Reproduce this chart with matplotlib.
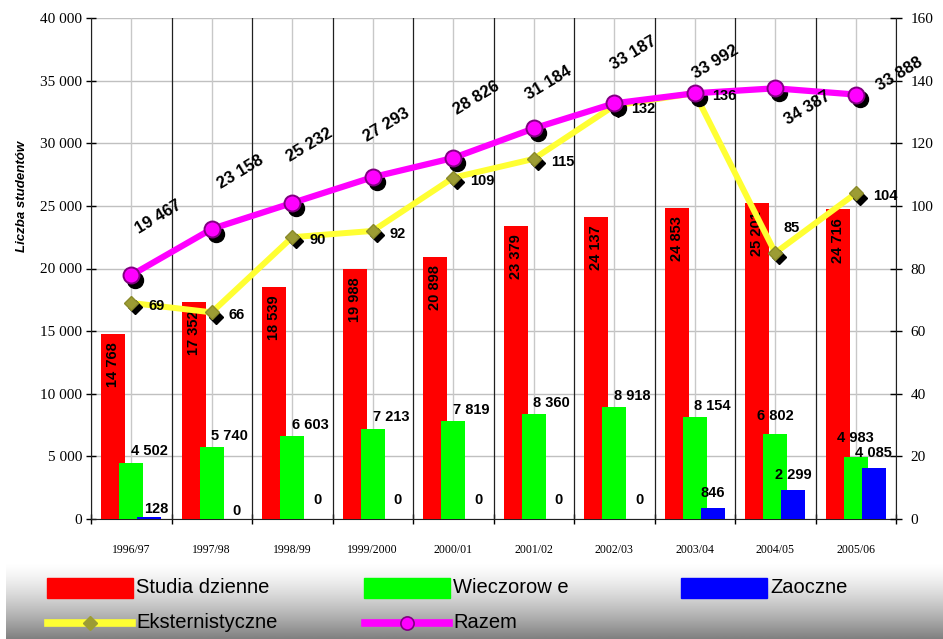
"""
Liczba studentów 1996/97 - 2005/06: słupki wg trybu studiów + linie (eksternistyczne, razem).
"""

import matplotlib
matplotlib.use('Agg')
import matplotlib.pyplot as plt
import matplotlib.transforms as mtransforms
from matplotlib.patches import Rectangle
from matplotlib.lines import Line2D
from matplotlib.ticker import FuncFormatter
import numpy as np

# --- data ---
years = ['1996/97', '1997/98', '1998/99', '1999/2000', '2000/01',
         '2001/02', '2002/03', '2003/04', '2004/05', '2005/06']
dzienne = [14768, 17352, 18539, 19988, 20898, 23379, 24137, 24853, 25201, 24716]
wieczorowe = [4502, 5740, 6603, 7213, 7819, 8360, 8918, 8154, 6802, 4983]
zaoczne = [128, 0, 0, 0, 0, 0, 0, 846, 2299, 4085]
eksternistyczne = [69, 66, 90, 92, 109, 115, 132, 136, 85, 104]
razem = [19467, 23158, 25232, 27293, 28826, 31184, 33187, 33992, 34387, 33888]

# label placement for the "Razem" values (pixels right / up from the point)
razem_lbl_dx = [27, 29, 17, 14, 23, 15, 19, 21, 32, 44]
razem_lbl_dy = [58, 57, 58, 52, 60, 45, 50, 31, -20, 21]

W, H = 943, 639
PX = 72.0 / 100  # pixels -> points

def fmt(v):
    return f"{int(v):,}".replace(',', ' ')

LBL = dict(family=['Liberation Sans', 'DejaVu Sans'], fontweight='bold',
           fontsize=10.5, color='black')

fig = plt.figure(figsize=(W / 100, H / 100), dpi=100)
ax = fig.add_axes([91 / W, 1 - 519 / H, (896 - 91) / W, (519 - 18) / H])

x = np.arange(len(years))
bw, off = 0.30, 0.224

# grid: light at category centres, dark at category borders
ax.set_xlim(-0.5, len(years) - 0.5)
ax.set_ylim(0, 40000)
for xc in x:
    ax.axvline(xc, color='#C8C8C8', lw=1, zorder=1)
for xb in np.arange(-0.5, len(years), 1.0):
    ax.axvline(xb, color='#202020', lw=0.9, zorder=1)
ax.set_yticks(range(0, 40001, 5000))
ax.yaxis.grid(True, color='#C0C0C0', lw=1, zorder=0)
ax.set_axisbelow(True)

ax.bar(x - off, dzienne, bw, color='#FF0000', zorder=3)
ax.bar(x, wieczorowe, bw, color='#00FF00', zorder=4)
ax.bar(x + off, zaoczne, bw, color='#0000FF', zorder=5)

# bar labels
for i in range(len(years)):
    ax.annotate(fmt(dzienne[i]), (x[i] - off, dzienne[i]), xytext=(0, -6),
                textcoords='offset points', rotation=90, ha='center', va='top',
                zorder=6, **LBL)
    gdx, gdy = (0.224, 3) if i < 8 else (0.0, 8)
    ax.annotate(fmt(wieczorowe[i]), (x[i] + gdx, wieczorowe[i]), xytext=(0, gdy),
                textcoords='offset points', ha='center', va='bottom', zorder=6, **LBL)
    if i < 2:
        bdx, bdy = 5, 1
    elif i < 7:
        bdx, bdy = 5, 9
    else:
        bdx, bdy = 0, 6
    ax.annotate(fmt(zaoczne[i]), (x[i] + off, zaoczne[i]), xytext=(bdx, bdy),
                textcoords='offset points', ha='center', va='bottom', zorder=6, **LBL)

# axes styling
ax.yaxis.set_major_formatter(FuncFormatter(lambda v, p: fmt(v)))
ax.tick_params(axis='y', direction='inout', length=7, width=1, pad=3,
               labelsize=11, labelfontfamily='Liberation Serif')
ax.set_xticks(x)
ax.set_xticklabels(years, fontsize=8.5, family='Liberation Serif')
ax.set_xticks(np.arange(-0.5, len(years), 1.0), minor=True)
ax.tick_params(axis='x', which='major', length=0, pad=18)
ax.tick_params(axis='x', which='minor', direction='inout', length=7, width=1)
for s in ['top', 'right']:
    ax.spines[s].set_visible(False)
ax.spines['left'].set_color('#202020')
ax.spines['bottom'].set_color('#202020')

# right axis: lines on top of the bars
ax2 = ax.twinx()
ax2.set_ylim(0, 160)
ax2.set_yticks(range(0, 161, 20))
ax2.tick_params(axis='y', direction='inout', length=9, width=1, pad=6,
                labelsize=11, labelfontfamily='Liberation Serif')
for s in ['top', 'left', 'bottom']:
    ax2.spines[s].set_visible(False)
ax2.spines['right'].set_color('#202020')

sh2 = mtransforms.offset_copy(ax2.transData, fig=fig, x=3, y=-3, units='points')
ax2.plot(x, eksternistyczne, color='#FFFF33', lw=4.3, zorder=2, solid_capstyle='butt')
ax2.plot(x, eksternistyczne, ls='none', marker='D', ms=7, color='black',
         transform=sh2, zorder=3)
ax2.plot(x, eksternistyczne, ls='none', marker='D', ms=7.5, color='#9C9C34',
         mec='#8A8A2A', zorder=4)
for i, v in enumerate(eksternistyczne):
    if i == 8:
        ax2.annotate(str(v), (x[i], v), xytext=(16 * PX, 25 * PX),
                     textcoords='offset points', ha='center', va='center', zorder=9, **LBL)
    else:
        ax2.annotate(str(v), (x[i], v), xytext=(17 * PX, -3 * PX),
                     textcoords='offset points', ha='left', va='center', zorder=9, **LBL)

sh1 = mtransforms.offset_copy(ax.transData, fig=fig, x=3, y=-3.5, units='points')
ax2.plot(x, razem, ls='none', marker='o', ms=11.5, color='black',
         transform=sh1, zorder=5)
ax2.plot(x, razem, color='#FF00FF', lw=4.5, marker='o', ms=11.5, mfc='#FF00FF',
         mec='#800080', mew=1.4, transform=ax.transData, zorder=6)
for i, v in enumerate(razem):
    ax2.annotate(fmt(v), (x[i], v), xycoords=ax.transData,
                 xytext=(razem_lbl_dx[i] * PX, razem_lbl_dy[i] * PX),
                 textcoords='offset points', ha='center', va='center',
                 rotation=31, zorder=9,
                 **{**LBL, 'fontsize': 12})

fig.text(22 / W, 1 - 196 / H, 'Liczba studentów', rotation=90, ha='center', va='center',
         fontsize=9.5, fontweight='bold', style='italic',
         family=['Liberation Sans', 'DejaVu Sans'])

# legend strip with grey gradient (pixel coordinates)
lax = fig.add_axes([6 / W, 0, 1 - 6 / W, (639 - 562) / H])
lax.set_xlim(6, 943)
lax.set_ylim(639, 562)
t = np.linspace(0, 1, 200)[:, None]
grad = 1 - 0.5 * t ** 1.4
lax.imshow(grad, cmap='gray', vmin=0, vmax=1, aspect='auto',
           extent=[6, 943, 639, 562], zorder=0)
lax.axis('off')

LEG = dict(family=['Liberation Sans', 'DejaVu Sans'],
           fontsize=14.5, color='black', va='center', ha='left')
for x0, col, name in [(47, '#FF0000', 'Studia dzienne'),
                      (364, '#00FF00', 'Wieczorow e'),
                      (681, '#0000FF', 'Zaoczne')]:
    lax.add_patch(Rectangle((x0, 578), 86, 20, color=col, zorder=2))
    lax.text(x0 + 89, 588, name, zorder=3, **LEG)
lax.add_line(Line2D([48, 132], [623, 623], color='#FFFF33', lw=5.5, zorder=2))
lax.add_line(Line2D([90], [623], marker='D', ms=7, color='#9C9C34', zorder=3))
lax.text(136, 623, 'Eksternistyczne', zorder=3, **LEG)
lax.add_line(Line2D([365, 449], [623, 623], color='#FF00FF', lw=5.5, zorder=2))
lax.add_line(Line2D([407], [623], marker='o', ms=9.5, mfc='#FF00FF', mec='#800080',
                    mew=1.2, zorder=3))
lax.text(453, 623, 'Razem', zorder=3, **LEG)

plt.savefig('out.png', dpi=100)
plt.close()
